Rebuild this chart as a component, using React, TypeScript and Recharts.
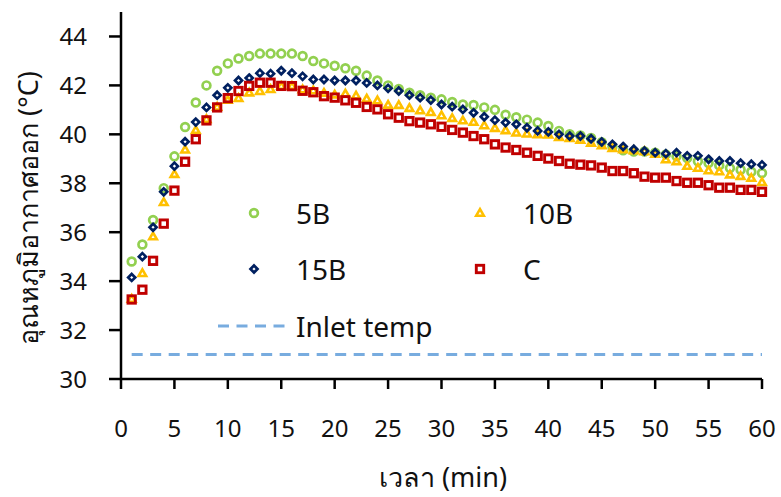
import React from "react";
import { ComposedChart, Scatter, XAxis, YAxis, ReferenceLine } from "recharts";

// Outlet air temperature vs time, four configurations + inlet reference.

const MINUTES = [
  1, 2, 3, 4, 5, 6, 7, 8, 9, 10, 11, 12, 13, 14, 15, 16, 17, 18, 19, 20,
  21, 22, 23, 24, 25, 26, 27, 28, 29, 30, 31, 32, 33, 34, 35, 36, 37, 38, 39, 40,
  41, 42, 43, 44, 45, 46, 47, 48, 49, 50, 51, 52, 53, 54, 55, 56, 57, 58, 59, 60,
];

const T_5B = [
  34.8, 35.5, 36.5, 37.8, 39.1, 40.3, 41.3, 42.0, 42.6, 42.9,
  43.1, 43.2, 43.3, 43.3, 43.3, 43.3, 43.2, 43.0, 42.9, 42.8,
  42.7, 42.6, 42.4, 42.2, 42.0, 41.85, 41.7, 41.6, 41.5, 41.43,
  41.32, 41.22, 41.2, 41.1, 41.0, 40.8, 40.7, 40.6, 40.48, 40.34,
  40.14, 40.0, 39.95, 39.85, 39.68, 39.5, 39.35, 39.3, 39.3, 39.25,
  39.18, 39.1, 39.03, 38.9, 38.83, 38.73, 38.62, 38.55, 38.47, 38.42,
];

const T_10B = [
  33.25, 34.3, 35.8, 37.2, 38.35, 39.35, 40.15, 40.6, 41.1, 41.38,
  41.45, 41.68, 41.74, 41.82, 41.95, 41.95, 41.81, 41.77, 41.67, 41.6,
  41.64, 41.56, 41.43, 41.36, 41.18, 41.17, 41.05, 40.95, 40.88, 40.75,
  40.64, 40.54, 40.48, 40.34, 40.23, 40.14, 40.04, 40.0, 39.97, 39.96,
  39.86, 39.82, 39.75, 39.63, 39.52, 39.41, 39.36, 39.32, 39.28, 39.18,
  38.95, 38.87, 38.68, 38.6, 38.5, 38.46, 38.33, 38.27, 38.19, 38.02,
];

const T_15B = [
  34.15, 35.0, 36.2, 37.65, 38.7, 39.7, 40.5, 41.1, 41.6, 41.9,
  42.2, 42.3, 42.5, 42.48, 42.6, 42.5, 42.37, 42.24, 42.24, 42.2,
  42.2, 42.2, 42.1, 42.0, 41.88, 41.77, 41.6, 41.5, 41.4, 41.22,
  41.13, 41.02, 40.88, 40.72, 40.58, 40.48, 40.41, 40.27, 40.14, 40.1,
  40.0, 39.93, 39.93, 39.82, 39.69, 39.59, 39.5, 39.39, 39.32, 39.25,
  39.21, 39.25, 39.12, 39.12, 38.98, 38.91, 38.91, 38.82, 38.78, 38.75,
];

const T_C = [
  33.25, 33.65, 34.83, 36.35, 37.7, 38.88, 39.8, 40.57, 41.1, 41.48,
  41.77, 41.98, 42.11, 42.11, 41.98, 41.97, 41.78, 41.72, 41.56, 41.5,
  41.39, 41.29, 41.12, 41.02, 40.82, 40.68, 40.54, 40.48, 40.41, 40.31,
  40.18, 40.07, 39.93, 39.8, 39.59, 39.46, 39.36, 39.25, 39.12, 39.01,
  38.91, 38.8, 38.76, 38.73, 38.64, 38.5, 38.5, 38.41, 38.27, 38.23,
  38.23, 38.09, 38.02, 38.02, 37.92, 37.82, 37.82, 37.73, 37.73, 37.65,
];

const INLET_TEMP = 31;

const X_TICKS = [0, 5, 10, 15, 20, 25, 30, 35, 40, 45, 50, 55, 60];
const Y_TICKS = [30, 32, 34, 36, 38, 40, 42, 44];

const COL = {
  g: "#92d050",
  y: "#ffc000",
  n: "#002060",
  r: "#c00000",
  inlet: "#78acdf",
  ink: "#111",
};

const FONT = "'Noto Sans', 'DejaVu Sans', sans-serif";

const rows = MINUTES.map((t, i) => ({ t, s5: T_5B[i], s10: T_10B[i], s15: T_15B[i], sc: T_C[i] }));

/* ---------- marker shapes ---------- */
type Mk = { cx: number; cy: number };

const Ring = ({ cx, cy }: Mk) => (
  <circle cx={cx} cy={cy} r={3.9} fill="none" stroke={COL.g} strokeWidth={2.7} />
);
const Tri = ({ cx, cy }: Mk) => {
  const s = 7.6;
  const h = s * 0.866;
  return (
    <polygon
      points={`${cx},${cy - (2 * h) / 3} ${cx - s / 2},${cy + h / 3} ${cx + s / 2},${cy + h / 3}`}
      fill="none" stroke={COL.y} strokeWidth={2.6}
    />
  );
};
const Dia = ({ cx, cy }: Mk) => {
  const d = 3.5;
  return (
    <polygon
      points={`${cx},${cy - d} ${cx + d},${cy} ${cx},${cy + d} ${cx - d},${cy}`}
      fill="none" stroke={COL.n} strokeWidth={2.7}
    />
  );
};
const Sq = ({ cx, cy }: Mk) => (
  <rect x={cx - 3.7} y={cy - 3.7} width={7.4} height={7.4} fill="none" stroke={COL.r} strokeWidth={2.9} />
);

/* ---------- legend (overlay) ---------- */
function LegendItem({ x, y, tx, label, shape }: { x: number; y: number; tx: number; label: string; shape: React.ReactNode }) {
  return (
    <>
      <svg width={16} height={16} style={{ position: "absolute", left: x - 8, top: y - 8 }}>
        {shape}
      </svg>
      <div style={{ position: "absolute", left: tx, top: y, transform: "translateY(-50%)", fontFamily: FONT, fontSize: 28, lineHeight: 1, color: COL.ink, whiteSpace: "nowrap" }}>
        {label}
      </div>
    </>
  );
}

export default function App() {
  const axisStroke = { stroke: "#000", strokeWidth: 2.5 };
  return (
    <div style={{ position: "relative", width: 781, height: 497, background: "#fff", overflow: "hidden" }}>
      <style>{"body{margin:0;background:#fff}"}</style>
      <ComposedChart width={781} height={497} data={rows} margin={{ top: 12, right: 19, bottom: 58, left: 41 }}>
        <XAxis
          dataKey="t" type="number" domain={[0, 60]} ticks={X_TICKS} interval={0}
          axisLine={axisStroke} tickLine={axisStroke} tickSize={10} tickMargin={31} height={60}
          tick={{ fill: COL.ink, fontSize: 24, fontFamily: FONT }}
        />
        <YAxis
          type="number" domain={[30, 45]} ticks={Y_TICKS} interval={0} allowDataOverflow
          axisLine={axisStroke} tickLine={axisStroke} tickSize={12} tickMargin={22} width={80}
          tick={{ fill: COL.ink, fontSize: 24, fontFamily: FONT }}
        />
        <ReferenceLine
          segment={[{ x: MINUTES[0], y: INLET_TEMP }, { x: MINUTES[MINUTES.length - 1], y: INLET_TEMP }]}
          stroke={COL.inlet} strokeWidth={3} strokeDasharray="11 7.5"
        />
        <Scatter dataKey="s5" shape={(p: any) => <Ring cx={p.cx} cy={p.cy} />} isAnimationActive={false} />
        <Scatter dataKey="s10" shape={(p: any) => <Tri cx={p.cx} cy={p.cy} />} isAnimationActive={false} />
        <Scatter dataKey="s15" shape={(p: any) => <Dia cx={p.cx} cy={p.cy} />} isAnimationActive={false} />
        <Scatter dataKey="sc" shape={(p: any) => <Sq cx={p.cx} cy={p.cy} />} isAnimationActive={false} />
      </ComposedChart>

      <LegendItem x={253.5} y={212.5} tx={296} label="5B" shape={<Ring cx={8} cy={8} />} />
      <LegendItem x={480} y={212.5} tx={523} label="10B" shape={<Tri cx={8} cy={8.5} />} />
      <LegendItem x={253.5} y={268.5} tx={296} label="15B" shape={<Dia cx={8} cy={8} />} />
      <LegendItem x={480} y={268.5} tx={523} label="C" shape={<Sq cx={8} cy={8} />} />
      <svg width={70} height={6} style={{ position: "absolute", left: 218, top: 323 }}>
        <line x1={0} y1={3} x2={68} y2={3} stroke={COL.inlet} strokeWidth={3} strokeDasharray="11 7.5" />
      </svg>
      <div style={{ position: "absolute", left: 296, top: 326, transform: "translateY(-50%)", fontFamily: FONT, fontSize: 28, lineHeight: 1, color: COL.ink, whiteSpace: "nowrap" }}>
        Inlet temp
      </div>

      {/* axis titles */}
      <div style={{ position: "absolute", left: 443, top: 477, transform: "translate(-50%,-50%)", fontFamily: FONT, fontSize: 27, lineHeight: 1.2, color: COL.ink, whiteSpace: "nowrap" }}>
        เวลา (min)
      </div>
      <div style={{ position: "absolute", left: 28, top: 208, transform: "translate(-50%,-50%) rotate(-90deg)", fontFamily: FONT, fontSize: 27, lineHeight: 1.2, color: COL.ink, whiteSpace: "nowrap" }}>
        อุณหภูมิอากาศออก (°C)
      </div>
    </div>
  );
}
